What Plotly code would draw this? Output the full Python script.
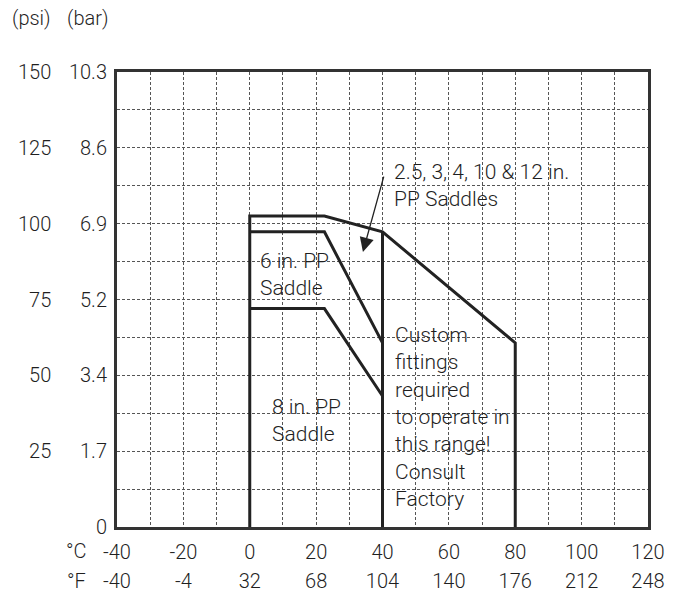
import plotly.graph_objects as go

# ---- data ----
temp_c_ticks = [-40, -20, 0, 20, 40, 60, 80, 100, 120]
temp_f_labels = ["-40", "-4", "32", "68", "104", "140", "176", "212", "248"]
psi_ticks = [0, 12.5, 25, 37.5, 50, 62.5, 75, 87.5, 100, 112.5, 125, 137.5, 150]
psi_labels = ["", "", "25", "", "50", "", "75", "", "100", "", "125", "", "150"]
bar_labels = ["0", "", "1.7", "", "3.4", "", "5.2", "", "6.9", "", "8.6", "", "10.3"]
x_grid = list(range(-40, 121, 10))

large_x = [0, 0, 22.5, 40, 80, 80]
large_psi = [0, 102.5, 102.5, 97.3, 60.7, 0]
six_x = [0, 22.5, 40]
six_psi = [97.3, 97.3, 60.7]
eight_x = [0, 22.5, 40]
eight_psi = [72, 72, 43.2]
limit_x = [40, 40]
limit_psi = [0, 97.3]

FONT = "Roboto"
TXT = "#1f1f1f"
LINE = "#222222"
FS_TICK = 20
FS_ANN = 21

fig = go.Figure()
for xs, ys in [(large_x, large_psi), (six_x, six_psi), (eight_x, eight_psi), (limit_x, limit_psi)]:
    fig.add_trace(go.Scatter(x=xs, y=ys, mode="lines", line=dict(color=LINE, width=3),
                             showlegend=False, hoverinfo="skip"))

# invisible trace to activate the secondary axes
fig.add_trace(go.Scatter(x=[-40], y=[0], xaxis="x2", yaxis="y2", mode="markers",
                         marker=dict(opacity=0), showlegend=False, hoverinfo="skip"))

grid = dict(showgrid=True, gridcolor="#555555", gridwidth=1, griddash="3px,2px")

fig.update_layout(
    width=679, height=595,
    margin=dict(l=117, r=31, t=72, b=68, autoexpand=False),
    paper_bgcolor="white", plot_bgcolor="white",
    font=dict(family=FONT, size=FS_TICK, color=TXT, weight=300),
    xaxis=dict(range=[-40, 120], tickmode="array", tickvals=x_grid,
               ticktext=[str(v) if v in temp_c_ticks else "" for v in x_grid],
               ticks="", showline=True, mirror=True, linecolor="#333333", linewidth=2.5,
               zeroline=False, ticklabelstandoff=5, **grid),
    xaxis2=dict(range=[-40, 120], overlaying="x", anchor="y", side="bottom",
                tickmode="array", tickvals=temp_c_ticks, ticktext=temp_f_labels,
                ticks="", showgrid=False, zeroline=False, showline=False,
                ticklabelstandoff=40),
    yaxis=dict(range=[0, 150], tickmode="array", tickvals=psi_ticks, ticktext=psi_labels,
               ticks="", showline=True, mirror=True, linecolor="#333333", linewidth=2.5,
               zeroline=False, ticklabelstandoff=59, **grid),
    yaxis2=dict(range=[0, 150], overlaying="y", anchor="x", side="left",
                tickmode="array", tickvals=psi_ticks, ticktext=bar_labels,
                ticks="", showgrid=False, zeroline=False, showline=False,
                ticklabelstandoff=9),
)

af = dict(size=FS_ANN)
ann = [
    dict(x=34.1, y=90.7, ax=40.5, ay=116, xref="x", yref="y", axref="x", ayref="y",
         text="", showarrow=True, arrowhead=2, arrowsize=2.2, arrowwidth=1.3, arrowcolor=LINE),
    dict(x=42.9, y=112.7, xref="x", yref="y", xanchor="left", yanchor="middle", font=af,
         text="2.5, 3, 4, 10 & 12 in.<br>PP Saddles", showarrow=False, align="left"),
    dict(x=2.5, y=83.2, xref="x", yref="y", xanchor="left", yanchor="middle", font=af,
         text="6 in. PP<br>Saddle", showarrow=False, align="left"),
    dict(x=6.1, y=35.1, xref="x", yref="y", xanchor="left", yanchor="middle", font=af,
         text="8 in. PP<br>Saddle", showarrow=False, align="left"),
    dict(x=43.2, y=36.3, xref="x", yref="y", xanchor="left", yanchor="middle", font=af,
         text="Custom<br>fittings<br>required<br>to operate in<br>this range!<br>Consult<br>Factory",
         showarrow=False, align="left"),
]
fig.update_layout(annotations=ann)

extra = [("(psi)", 31.5, 18), ("(bar)", 87.5, 18), ("°C", 76, 551), ("°F", 76, 581)]
for txt, px, py in extra:
    fig.add_annotation(x=(px - 117) / 531, y=(527 - py) / 455, xref="x domain", yref="y domain",
                       text=txt, showarrow=False, xanchor="center", yanchor="middle")

# remove the default 8px page margin so the figure fills the window exactly
fig.write_html("out.html", config={"displayModeBar": False},
               post_script="document.body.style.margin='0';")
